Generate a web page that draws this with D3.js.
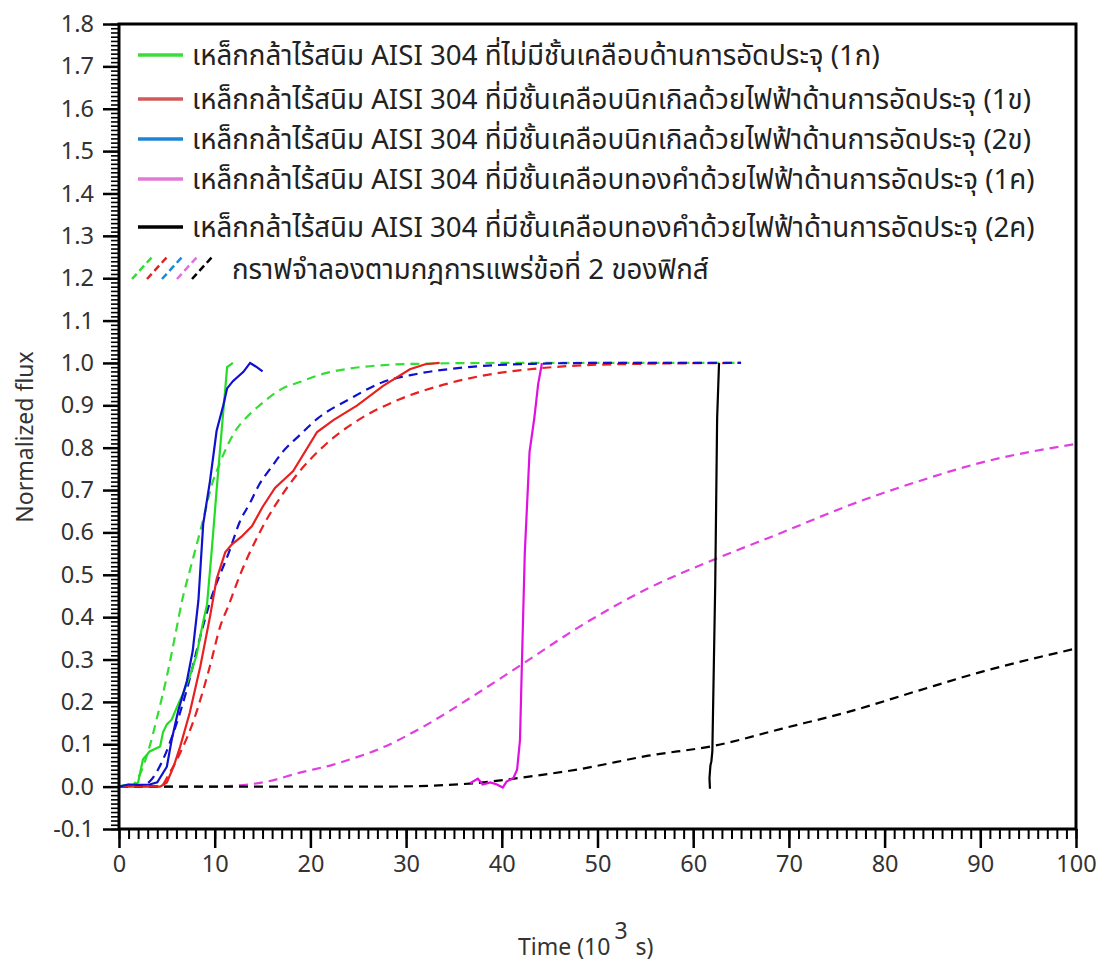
<!DOCTYPE html>
<html>
<head>
<meta charset="utf-8">
<script src="https://cdn.jsdelivr.net/npm/d3@7"></script>
<style>
  body { margin: 0; background: #fff; }
  text { font-family: "Noto Sans Thai", "Noto Sans", sans-serif; }
</style>
</head>
<body>
<div id="container"></div>
<script>
// experimental curves (time in 10^3 s, normalized flux)
const green_t = [0, 0.5, 1, 1.5, 2.0, 2.5, 3.2, 4.3, 4.6, 5.0, 5.5, 6.1, 6.7, 7.4, 8.1, 8.8, 9.2, 9.7, 10.2, 10.8, 11.3, 11.9];
const green_v = [0, 0.003, 0.005, 0.003, 0.01, 0.064, 0.083, 0.095, 0.128, 0.147, 0.158, 0.19, 0.22, 0.26, 0.31, 0.39, 0.43, 0.56, 0.70, 0.86, 0.99, 1.0];

const blue_t = [0, 1, 2, 3.2, 4.0, 5.0, 5.5, 6.2, 7.1, 7.7, 8.3, 8.8, 9.5, 10.2, 10.9, 11.3, 11.9, 13.0, 13.7, 14.4, 15.0];
const blue_v = [0, 0.005, 0.004, 0.005, 0.01, 0.047, 0.11, 0.18, 0.25, 0.32, 0.44, 0.62, 0.72, 0.84, 0.90, 0.94, 0.957, 0.979, 1.0, 0.99, 0.98];

const red_t = [0, 2, 4.3, 5.0, 5.7, 6.4, 7.4, 8.5, 9.5, 10.2, 11.1, 11.8, 12.8, 13.9, 15.0, 16.3, 18.2, 20.7, 22.4, 24.9, 27.6, 30.4, 32.0, 33.5];
const red_v = [0, 0, 0.0, 0.01, 0.047, 0.095, 0.175, 0.284, 0.40, 0.49, 0.553, 0.572, 0.59, 0.615, 0.66, 0.705, 0.745, 0.837, 0.865, 0.90, 0.946, 0.985, 0.997, 1.0];

const pink_t = [36.7, 37.0, 37.5, 38.0, 38.8, 39.5, 40.1, 40.5, 41.2, 41.6, 41.9, 42.1, 42.4, 42.9, 43.4, 43.8, 44.2];
const pink_v = [0.008, 0.012, 0.019, 0.005, 0.01, 0.005, -0.002, 0.012, 0.02, 0.04, 0.11, 0.29, 0.55, 0.79, 0.87, 0.95, 1.0];

const black_t = [61.75, 61.7, 61.8, 61.9, 62.0, 62.3, 62.5, 62.7];
const black_v = [-0.005, 0.02, 0.05, 0.06, 0.083, 0.475, 0.868, 1.0];

// Fick's second law model curves
const greenFit_t = [1, 1.5, 2.2, 3.2, 4.0, 5.0, 5.9, 6.6, 7.4, 8.8, 9.8, 10.3, 11.9, 13.7, 14.7, 17.1, 18.9, 20.7, 25.2, 31.1, 40, 65];
const greenFit_v = [0, 0.005, 0.03, 0.095, 0.165, 0.26, 0.36, 0.44, 0.51, 0.63, 0.72, 0.75, 0.83, 0.88, 0.90, 0.94, 0.955, 0.97, 0.99, 0.998, 1.0, 1.0];

const blueFit_t = [0, 2, 2.5, 3.2, 4.6, 5.7, 7.1, 8.5, 9.5, 11.6, 12.6, 13.7, 14.7, 15.8, 17.1, 18.9, 20.7, 24.1, 27.6, 31.1, 36.4, 43.3, 50, 65];
const blueFit_v = [0, 0, 0.003, 0.012, 0.064, 0.128, 0.23, 0.355, 0.435, 0.56, 0.624, 0.67, 0.715, 0.75, 0.79, 0.83, 0.868, 0.915, 0.955, 0.974, 0.99, 0.998, 1.0, 1.0];

const redFit_t = [0, 4.3, 5.3, 6.4, 7.7, 9.5, 10.6, 11.4, 12.6, 14.7, 17.7, 21.7, 25.2, 29.4, 33.5, 38.0, 43.3, 52, 65];
const redFit_v = [0, 0, 0.033, 0.08, 0.15, 0.284, 0.38, 0.425, 0.497, 0.60, 0.71, 0.81, 0.868, 0.915, 0.946, 0.97, 0.986, 0.997, 1.0];

const pinkFit_t = [0, 10, 12, 15.5, 18.9, 22.4, 24.1, 27.3, 32.0, 36.6, 42.2, 48.3, 55.3, 62.3, 69.3, 76.3, 83.3, 90.3, 100];
const pinkFit_v = [0, 0, 0.002, 0.012, 0.033, 0.052, 0.064, 0.09, 0.144, 0.208, 0.29, 0.38, 0.468, 0.537, 0.60, 0.664, 0.719, 0.766, 0.809];

const blackFit_t = [0, 20, 27.3, 36.6, 41.3, 48.3, 55.3, 62.3, 69.3, 76.3, 83.3, 90.3, 100];
const blackFit_v = [0, 0, 0.0, 0.007, 0.019, 0.042, 0.073, 0.097, 0.137, 0.177, 0.225, 0.272, 0.326];

const legendLabels = [
  "เหล็กกล้าไร้สนิม AISI 304 ที่ไม่มีชั้นเคลือบด้านการอัดประจุ (1ก)",
  "เหล็กกล้าไร้สนิม AISI 304 ที่มีชั้นเคลือบนิกเกิลด้วยไฟฟ้าด้านการอัดประจุ (1ข)",
  "เหล็กกล้าไร้สนิม AISI 304 ที่มีชั้นเคลือบนิกเกิลด้วยไฟฟ้าด้านการอัดประจุ (2ข)",
  "เหล็กกล้าไร้สนิม AISI 304 ที่มีชั้นเคลือบทองคำด้วยไฟฟ้าด้านการอัดประจุ (1ค)",
  "เหล็กกล้าไร้สนิม AISI 304 ที่มีชั้นเคลือบทองคำด้วยไฟฟ้าด้านการอัดประจุ (2ค)"
];
const legendColors = ["#3ddc3d", "#d2585c", "#1c86d6", "#e07ad6", "#000000"];
const fitLabel = "กราฟจำลองตามกฎการแพร่ข้อที่ 2 ของฟิกส์";
const fitColors = ["#33dd33", "#e02424", "#1a8ae0", "#e070e0", "#000000"];

const yTicks = d3.range(-1, 19).map(i => i / 10);
const xTicks = d3.range(0, 11).map(i => i * 10);

const width = 1105, height = 961;
const mLeft = 119, mRight = 1076, mTop = 24, mBottom = 829;

const svg = d3.select("#container").append("svg")
  .attr("width", width).attr("height", height);

const x = d3.scaleLinear().domain([0, 100]).range([mLeft, mRight]);
const y = d3.scaleLinear().domain([-0.1, 1.8]).range([mBottom, mTop]);

const zip = (ts, vs) => ts.map((t, i) => [t, vs[i]]);

const series = [
  {pts: zip(greenFit_t, greenFit_v), color: "#33dd33", dash: true},
  {pts: zip(redFit_t, redFit_v), color: "#e82020", dash: true},
  {pts: zip(blueFit_t, blueFit_v), color: "#1010d0", dash: true},
  {pts: zip(pinkFit_t, pinkFit_v), color: "#e040e0", dash: true},
  {pts: zip(blackFit_t, blackFit_v), color: "#000", dash: true},
  {pts: zip(red_t, red_v), color: "#e82020", dash: false},
  {pts: zip(green_t, green_v), color: "#22dd22", dash: false},
  {pts: zip(blue_t, blue_v), color: "#1010d0", dash: false},
  {pts: zip(pink_t, pink_v), color: "#e010e0", dash: false},
  {pts: zip(black_t, black_v), color: "#000", dash: false}
];

const lineSmooth = d3.line().x(d => x(d[0])).y(d => y(d[1])).curve(d3.curveMonotoneX);
const lineRaw = d3.line().x(d => x(d[0])).y(d => y(d[1]));

svg.append("g").selectAll("path")
  .data(series)
  .join("path")
  .attr("d", d => d.dash ? lineSmooth(d.pts) : lineRaw(d.pts))
  .attr("fill", "none")
  .attr("stroke", d => d.color)
  .attr("stroke-width", 2.2)
  .attr("stroke-dasharray", d => d.dash ? "9,6" : null);

// frame
svg.append("rect")
  .attr("x", mLeft).attr("y", mTop)
  .attr("width", mRight - mLeft).attr("height", mBottom - mTop)
  .attr("fill", "none").attr("stroke", "#000").attr("stroke-width", 3);

// y axis: minor then major
svg.append("g")
  .attr("transform", `translate(${mLeft},0)`)
  .call(d3.axisLeft(y).tickValues(d3.range(-10, 181).map(i => i / 100)).tickSize(8).tickFormat(""))
  .call(g => g.select(".domain").remove())
  .call(g => g.selectAll("line").attr("stroke-width", 1.6));

svg.append("g")
  .attr("transform", `translate(${mLeft},0)`)
  .call(d3.axisLeft(y).tickValues(yTicks).tickSize(16).tickPadding(9).tickFormat(d => d.toFixed(1)))
  .call(g => g.select(".domain").remove())
  .call(g => g.selectAll("line").attr("stroke-width", 2.5))
  .call(g => g.selectAll("text").attr("font-size", 23.5).attr("fill", "#333")
    .style("font-family", "'Noto Sans', sans-serif"));

// x axis
svg.append("g")
  .attr("transform", `translate(0,${mBottom})`)
  .call(d3.axisBottom(x).tickValues(d3.range(0, 101)).tickSize(10).tickFormat(""))
  .call(g => g.select(".domain").remove())
  .call(g => g.selectAll("line").attr("stroke-width", 2));

svg.append("g")
  .attr("transform", `translate(0,${mBottom})`)
  .call(d3.axisBottom(x).tickValues(xTicks).tickSize(19).tickPadding(7))
  .call(g => g.select(".domain").remove())
  .call(g => g.selectAll("line").attr("stroke-width", 2.5))
  .call(g => g.selectAll("text").attr("font-size", 23.5).attr("fill", "#333")
    .style("font-family", "'Noto Sans', sans-serif"));

// axis titles
svg.append("text")
  .attr("transform", "translate(33,437) rotate(-90)")
  .attr("text-anchor", "middle")
  .attr("font-size", 23).attr("fill", "#333")
  .style("font-family", "'Noto Sans', sans-serif")
  .text("Normalized flux");

const xt = svg.append("text")
  .attr("x", 518).attr("y", 955)
  .attr("font-size", 23).attr("fill", "#333")
  .style("font-family", "'Noto Sans', sans-serif");
xt.append("tspan").text("Time (10");
xt.append("tspan").attr("dy", -16).attr("dx", 4).text("3");
xt.append("tspan").attr("dy", 16).attr("dx", 8).text("s)");

// legend
const legendY = [55, 99, 139, 179, 227];
const lg = svg.append("g");
legendLabels.forEach((lab, i) => {
  lg.append("line")
    .attr("x1", 138).attr("x2", 183)
    .attr("y1", legendY[i]).attr("y2", legendY[i])
    .attr("stroke", legendColors[i]).attr("stroke-width", 3.5);
  lg.append("text")
    .attr("x", 192).attr("y", legendY[i] + 10)
    .attr("font-size", 27.7).attr("fill", "#222")
    .text(lab);
});

fitColors.forEach((c, i) => {
  const x0 = 132 + i * 15;
  lg.append("line")
    .attr("x1", x0).attr("y1", 279)
    .attr("x2", x0 + 20).attr("y2", 257)
    .attr("stroke", c).attr("stroke-width", 2.5)
    .attr("stroke-dasharray", "7,4");
});
lg.append("text")
  .attr("x", 232).attr("y", 279)
  .attr("font-size", 27.7).attr("fill", "#222")
  .text(fitLabel);
</script>
</body>
</html>
